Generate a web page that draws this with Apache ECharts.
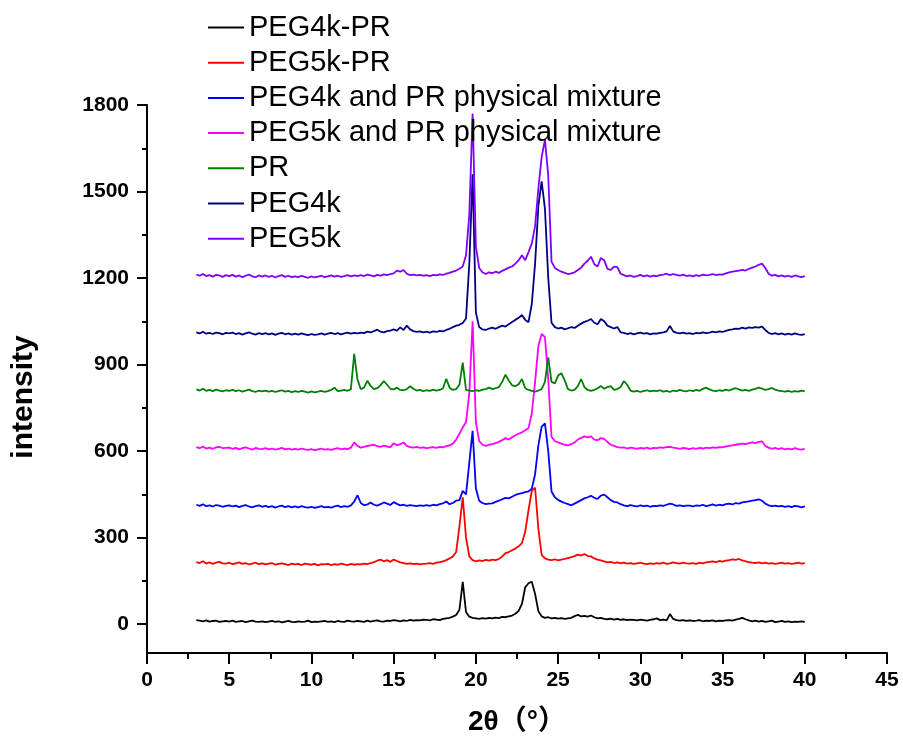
<!DOCTYPE html>
<html>
<head>
<meta charset="utf-8">
<script src="https://cdn.jsdelivr.net/npm/echarts@6/dist/echarts.min.js"></script>
<style>html,body{margin:0;padding:0;background:#fff}#c{width:903px;height:744px}</style>
</head>
<body>
<div id="c"></div>
<script>
const twoTheta = [
3,3.2,3.4,3.6,3.8,4,4.2,4.4,4.6,4.8,
5,5.2,5.4,5.6,5.8,6,6.2,6.4,6.6,6.8,
7,7.2,7.4,7.6,7.8,8,8.2,8.4,8.6,8.8,
9,9.2,9.4,9.6,9.8,10,10.2,10.4,10.6,10.8,
11,11.2,11.4,11.6,11.8,12,12.2,12.4,12.6,12.8,
13,13.2,13.4,13.6,13.8,14,14.2,14.4,14.6,14.8,
15,15.2,15.4,15.6,15.8,16,16.2,16.4,16.6,16.8,
17,17.2,17.4,17.6,17.8,18,18.2,18.4,18.6,18.8,
19,19.2,19.4,19.6,19.8,20,20.2,20.4,20.6,20.8,
21,21.2,21.4,21.6,21.8,22,22.2,22.4,22.6,22.8,
23,23.2,23.4,23.6,23.8,24,24.2,24.4,24.6,24.8,
25,25.2,25.4,25.6,25.8,26,26.2,26.4,26.6,26.8,
27,27.2,27.4,27.6,27.8,28,28.2,28.4,28.6,28.8,
29,29.2,29.4,29.6,29.8,30,30.2,30.4,30.6,30.8,
31,31.2,31.4,31.6,31.8,32,32.2,32.4,32.6,32.8,
33,33.2,33.4,33.6,33.8,34,34.2,34.4,34.6,34.8,
35,35.2,35.4,35.6,35.8,36,36.2,36.4,36.6,36.8,
37,37.2,37.4,37.6,37.8,38,38.2,38.4,38.6,38.8,
39,39.2,39.4,39.6,39.8,40];

const peg4kPR = [
14,12,10,13,9,11,12,8,10,11,
9,12,8,10,11,7,10,12,9,8,
10,7,9,11,8,10,6,9,11,8,
7,10,8,9,12,7,9,8,10,11,
8,10,7,11,9,8,12,10,9,11,
10,8,12,9,11,13,10,9,12,11,
14,12,10,13,11,15,12,14,13,16,
15,13,17,16,14,18,20,22,26,32,
50,147,42,26,22,20,18,21,19,22,
20,23,21,25,24,27,30,36,46,70,
128,142,147,105,45,27,22,24,20,22,
19,21,18,20,22,28,32,27,29,26,
30,24,20,22,18,17,19,16,18,15,
17,14,16,15,13,16,14,12,15,17,
20,14,16,13,35,18,14,12,14,11,
13,11,12,14,10,12,11,13,10,12,
11,13,14,12,16,18,22,17,13,10,
12,9,11,8,10,12,7,9,11,8,
10,7,9,8,10,8];

const peg5kPR = [
215,212,218,210,214,209,213,216,211,210,
213,208,211,214,209,212,207,210,213,208,
211,207,210,212,206,209,211,208,205,210,
207,209,205,210,208,206,209,204,208,207,
209,205,208,206,210,207,205,209,206,208,
207,210,208,212,215,220,224,218,222,216,
224,219,214,212,209,211,208,210,207,209,
210,212,209,213,215,218,222,228,235,250,
340,440,300,235,222,218,221,219,223,220,
224,222,226,235,246,250,256,262,270,281,
320,395,462,473,330,240,228,224,222,225,
221,224,226,229,232,236,241,238,243,236,
235,228,224,221,218,214,216,212,214,211,
213,210,212,209,211,213,210,208,211,209,
212,210,213,209,211,214,212,210,213,211,
210,212,209,213,211,214,216,218,215,219,
217,220,222,225,223,226,221,218,215,213,
212,214,211,213,210,212,209,211,213,210,
212,209,211,213,210,212];

const peg4kMix = [
414,410,416,409,412,408,413,411,407,410,
412,408,411,406,410,413,408,405,409,412,
407,410,406,409,404,408,411,406,409,405,
408,405,409,406,404,407,403,406,409,405,
407,404,408,411,406,409,407,412,425,447,
420,412,415,422,414,411,416,422,418,413,
423,417,412,414,410,413,411,409,412,410,
413,410,414,412,416,419,425,416,420,428,
430,462,450,560,670,470,428,420,416,418,
419,424,428,433,438,436,442,448,452,454,
458,460,470,520,620,685,696,600,460,440,
431,425,420,416,412,418,424,430,436,440,
445,438,434,446,449,440,430,424,422,416,
412,409,413,410,408,412,409,411,407,410,
409,412,410,414,418,415,410,412,409,411,
411,408,412,410,414,409,412,415,411,414,
412,416,418,415,420,418,422,424,426,428,
430,433,428,418,412,409,411,408,410,407,
409,406,410,408,405,408];

const peg5kMix = [
614,610,616,609,612,608,613,615,610,611,
612,608,611,606,610,613,609,605,611,608,
607,610,606,609,605,608,611,606,609,605,
608,605,609,606,604,607,603,606,609,605,
607,604,608,610,606,609,607,612,630,618,
612,615,618,620,622,617,615,619,616,614,
627,620,624,630,618,614,612,615,611,613,
610,612,614,611,615,613,617,620,626,640,
660,682,700,800,1050,700,635,622,618,622,
624,628,632,638,645,640,648,655,660,665,
672,680,730,840,965,1006,995,850,650,635,
630,626,622,620,624,630,640,646,651,648,
651,640,638,645,642,632,622,618,614,612,
613,609,612,610,608,611,609,612,608,611,
610,613,611,614,615,612,610,608,611,609,
607,610,608,611,609,612,610,613,611,614,
613,616,618,620,622,624,626,624,628,630,
628,632,634,618,612,608,611,607,610,606,
609,606,610,607,605,608];

const prData = [
814,810,816,809,812,808,813,810,807,811,
809,812,808,811,806,810,813,808,805,810,
807,810,806,809,805,808,811,806,809,804,
808,805,809,806,803,807,804,806,809,805,
808,812,820,808,810,812,809,815,937,848,
815,820,844,826,815,818,828,843,830,816,
814,820,812,811,815,825,816,810,812,808,
811,809,813,810,812,818,851,820,812,815,
830,907,812,810,808,811,809,813,815,820,
815,818,822,840,865,845,828,825,832,850,
818,812,809,806,810,815,840,925,840,835,
862,870,845,815,810,812,825,850,822,812,
809,812,818,826,816,822,825,812,815,822,
843,830,810,806,809,805,808,811,807,810,
808,811,806,809,805,810,808,812,809,807,
811,808,812,809,816,820,814,810,808,811,
809,813,810,815,818,814,810,812,809,813,
816,820,817,812,815,819,813,810,808,806,
809,805,808,806,810,808];

const peg4k = [
1012,1008,1014,1007,1010,1006,1011,1009,1005,1010,
1008,1011,1006,1009,1004,1008,1012,1007,1004,1009,
1006,1009,1005,1008,1003,1007,1010,1005,1008,1004,
1007,1004,1008,1005,1002,1006,1003,1005,1008,1004,
1007,1010,1006,1009,1005,1008,1011,1007,1010,1008,
1011,1009,1014,1012,1016,1021,1014,1012,1016,1018,
1022,1018,1029,1020,1035,1022,1016,1013,1015,1012,
1014,1011,1015,1013,1017,1015,1020,1024,1030,1035,
1038,1044,1060,1250,1560,1080,1030,1022,1020,1025,
1028,1024,1030,1035,1032,1040,1048,1055,1062,1072,
1055,1047,1110,1250,1450,1535,1440,1200,1045,1030,
1025,1028,1022,1026,1030,1027,1035,1042,1048,1052,
1058,1045,1040,1058,1050,1035,1030,1025,1030,1012,
1010,1006,1009,1005,1008,1011,1007,1009,1005,1008,
1007,1010,1012,1015,1034,1015,1010,1008,1011,1007,
1009,1006,1010,1008,1012,1009,1011,1014,1012,1015,
1013,1017,1020,1022,1025,1024,1028,1025,1029,1027,
1030,1028,1032,1020,1010,1006,1009,1005,1008,1004,
1007,1004,1008,1005,1003,1006];

const peg5k = [
1212,1208,1214,1207,1210,1205,1211,1209,1204,1210,
1207,1211,1205,1209,1203,1208,1212,1206,1203,1209,
1205,1209,1204,1208,1202,1207,1210,1204,1208,1203,
1206,1203,1208,1204,1201,1206,1202,1205,1208,1203,
1206,1209,1205,1208,1204,1207,1210,1206,1209,1207,
1210,1207,1212,1209,1206,1211,1208,1213,1210,1214,
1216,1226,1222,1228,1215,1210,1212,1209,1211,1208,
1210,1207,1211,1209,1213,1211,1215,1218,1222,1226,
1232,1240,1279,1420,1770,1310,1235,1220,1214,1220,
1217,1222,1218,1225,1230,1236,1240,1250,1262,1279,
1262,1290,1320,1380,1511,1620,1680,1555,1257,1235,
1228,1222,1218,1214,1216,1220,1228,1236,1250,1260,
1274,1248,1240,1270,1262,1232,1228,1240,1238,1215,
1210,1206,1209,1204,1207,1211,1206,1209,1205,1208,
1207,1210,1212,1215,1210,1214,1211,1208,1212,1207,
1209,1206,1210,1207,1212,1209,1211,1214,1210,1213,
1212,1216,1220,1222,1224,1226,1228,1226,1232,1236,
1240,1246,1250,1235,1215,1208,1211,1206,1209,1205,
1208,1204,1209,1206,1203,1207];

const seriesNames = ['PEG4k-PR','PEG5k-PR','PEG4k and PR physical mixture','PEG5k and PR physical mixture','PR','PEG4k','PEG5k'];
const seriesValues = [peg4kPR, peg5kPR, peg4kMix, peg5kMix, prData, peg4k, peg5k];
const seriesColors = ['#000000','#ff0000','#0000ff','#ff00ff','#008000','#000080','#8000ff'];
const yMajorTicks = [0,300,600,900,1200,1500,1800];
const yMinorTicks = [150,450,750,1050,1350,1650];

const FONT = 'Liberation Sans, Arial, Noto Sans CJK SC, sans-serif';
const chart = echarts.init(document.getElementById('c'), null, {renderer:'canvas'});
chart.setOption({
  animation: false,
  backgroundColor: '#fff',
  grid: {left: 147, right: 16, top: 105, bottom: 91, containLabel: false},
  legend: {
    orient: 'vertical', left: 203, top: 6, itemWidth: 36, itemHeight: 2, itemGap: 2.2,
    icon: 'rect',
    textStyle: {fontFamily: FONT, fontSize: 29, color: '#000', lineHeight: 33},
    data: seriesNames
  },
  graphic: [{
    type: 'text', x: 24, y: 397, rotation: Math.PI / 2,
    style: {text: 'intensity', fill: '#000', font: 'bold 30px ' + FONT, textAlign: 'center', textVerticalAlign: 'middle'}
  }],
  xAxis: {
    type: 'value', min: 0, max: 45, interval: 5,
    name: '2θ（°）', nameLocation: 'middle', nameGap: 55,
    nameTextStyle: {fontFamily: FONT, fontSize: 28, fontWeight: 'bold', color: '#000'},
    axisLine: {show: true, onZero: false, lineStyle: {color: '#000', width: 2}},
    axisTick: {show: true, inside: false, length: 11, lineStyle: {color: '#000', width: 2}},
    minorTick: {show: true, splitNumber: 2, length: 6, lineStyle: {color: '#000', width: 2}},
    axisLabel: {fontFamily: FONT, fontSize: 21, fontWeight: 'bold', color: '#000', margin: 17},
    splitLine: {show: false}
  },
  yAxis: [{
    type: 'value', min: -100, max: 1800,
    axisLine: {show: true, onZero: false, lineStyle: {color: '#000', width: 2}},
    axisTick: {show: true, inside: false, length: 10, lineStyle: {color: '#000', width: 2},
      customValues: yMajorTicks},
    minorTick: {show: false},
    axisLabel: {fontFamily: FONT, fontSize: 21, fontWeight: 'bold', color: '#000', margin: 18,
      customValues: yMajorTicks, formatter: v => String(v)},
    splitLine: {show: false}
  }, {
    type: 'value', min: -100, max: 1800, position: 'left',
    axisLine: {show: false},
    axisTick: {show: true, inside: false, length: 5, lineStyle: {color: '#000', width: 2},
      customValues: yMinorTicks},
    axisLabel: {show: false},
    splitLine: {show: false}
  }],
  series: seriesNames.map((n, k) => ({
    name: n, type: 'line', showSymbol: false, symbol: 'none', yAxisIndex: 0,
    lineStyle: {color: seriesColors[k], width: 1.8},
    itemStyle: {color: seriesColors[k]},
    data: twoTheta.map((t, i) => [t, seriesValues[k][i]])
  }))
});
</script>
</body>
</html>
